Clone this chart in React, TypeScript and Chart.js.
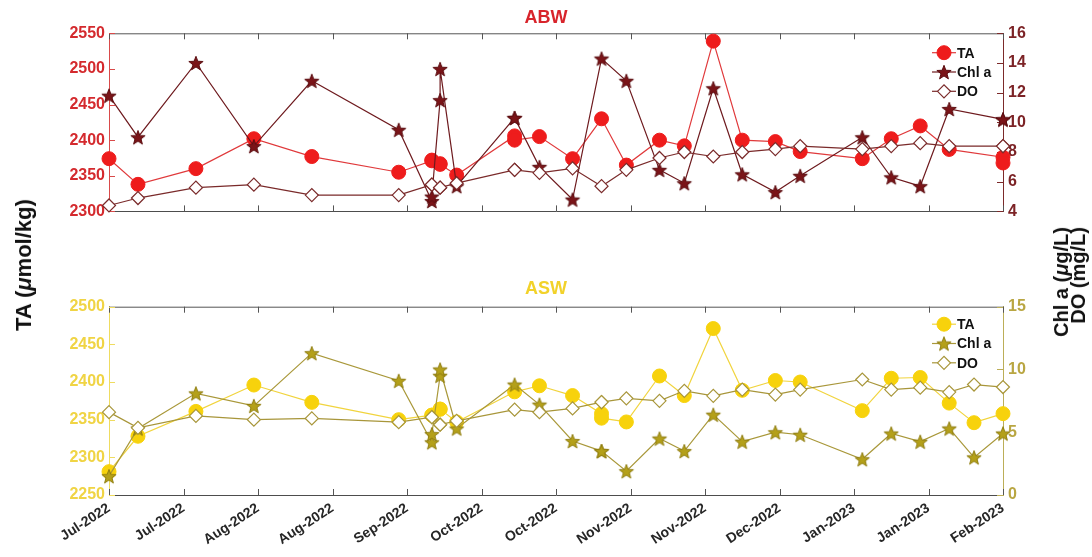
import React, { useEffect, useRef } from 'react';
import { Chart, registerables } from 'chart.js';

Chart.register(...registerables);

const FONT = '"Liberation Sans", Arial, Helvetica, sans-serif';
Chart.defaults.font.family = FONT;

// x axis: days since 7 Jul 2022, one tick every 18 days
const tickLabels = [
  'Jul-2022', 'Jul-2022', 'Aug-2022', 'Aug-2022', 'Sep-2022', 'Oct-2022', 'Oct-2022',
  'Nov-2022', 'Nov-2022', 'Dec-2022', 'Jan-2023', 'Jan-2023', 'Feb-2023',
];
const tickStepDays = 18;

// ABW samples
const abwDays = [0, 7, 21, 35, 49, 70, 78, 78, 80, 80, 84, 98, 98, 104, 112, 119, 125, 133, 139, 146, 153, 161, 167, 182, 189, 196, 203, 216, 216];
const abwTA = [2374, 2338, 2360, 2402, 2377, 2355, 2371, 2372, 2367, 2366, 2351, 2406, 2400, 2405, 2374, 2430, 2365, 2400, 2392, 2539, 2400, 2398, 2384, 2374, 2402, 2420, 2387, 2376, 2368];
const abwChl = [11.8, 9.0, 14.0, 8.4, 12.8, 9.5, 4.7, 5.0, 11.5, 13.6, 5.7, 10.3, 10.3, 7.0, 4.8, 14.3, 12.8, 6.8, 5.9, 12.3, 6.5, 5.3, 6.4, 9.0, 6.3, 5.7, 10.9, 10.2, 10.2];
const abwDO = [4.4, 4.9, 5.6, 5.8, 5.1, 5.1, 5.8, 5.8, 5.6, 5.6, 5.9, 6.8, 6.8, 6.6, 6.9, 5.7, 6.8, 7.6, 8.0, 7.7, 8.0, 8.2, 8.4, 8.2, 8.4, 8.6, 8.4, 8.4, 8.4];

// ASW samples
const aswDays = [0, 7, 21, 35, 49, 70, 78, 78, 80, 80, 84, 98, 104, 112, 119, 119, 125, 133, 139, 146, 153, 161, 167, 182, 189, 196, 203, 209, 216];
const aswTA = [2281, 2328, 2361, 2396, 2373, 2350, 2356, 2356, 2364, 2364, 2347, 2387, 2395, 2382, 2358, 2352, 2347, 2408, 2382, 2471, 2389, 2402, 2400, 2362, 2405, 2406, 2372, 2346, 2358];
const aswChl = [1.5, 5.3, 8.1, 7.1, 11.3, 9.1, 4.2, 4.85, 9.5, 10.0, 5.3, 8.8, 7.2, 4.3, 3.5, 3.5, 1.9, 4.5, 3.5, 6.4, 4.25, 5.0, 4.8, 2.85, 4.9, 4.25, 5.3, 3.0, 4.9];
const aswDO = [6.6, 5.35, 6.3, 6.0, 6.1, 5.8, 6.2, 6.2, 5.6, 5.6, 5.9, 6.8, 6.6, 6.9, 7.4, 7.4, 7.7, 7.5, 8.3, 7.9, 8.4, 8.0, 8.4, 9.2, 8.4, 8.55, 8.2, 8.8, 8.6];

function makeStar(fill: string, stroke: string, r: number): HTMLCanvasElement {
  const c = document.createElement('canvas');
  const size = Math.ceil(2 * r + 3);
  c.width = size;
  c.height = size;
  const g = c.getContext('2d')!;
  const cx = size / 2;
  const cy = size / 2 + 0.8;
  g.beginPath();
  for (let k = 0; k < 10; k++) {
    const rad = k % 2 === 0 ? r : r * 0.42;
    const a = -Math.PI / 2 + (k * Math.PI) / 5;
    const px = cx + rad * Math.cos(a);
    const py = cy + rad * Math.sin(a);
    if (k === 0) g.moveTo(px, py);
    else g.lineTo(px, py);
  }
  g.closePath();
  g.fillStyle = fill;
  g.fill();
  g.lineWidth = 1;
  g.strokeStyle = stroke;
  g.stroke();
  return c;
}

function drawMarker(ctx: CanvasRenderingContext2D, ds: any, x: number, y: number) {
  const style = ds.pointStyle;
  const r = ds.pointRadius;
  ctx.save();
  if (typeof style === 'object' && style) {
    ctx.drawImage(style, x - style.width / 2, y - style.height / 2);
  } else {
    ctx.beginPath();
    if (style === 'rectRot') {
      ctx.moveTo(x - r, y);
      ctx.lineTo(x, y - r);
      ctx.lineTo(x + r, y);
      ctx.lineTo(x, y + r);
      ctx.closePath();
    } else {
      ctx.arc(x, y, r, 0, Math.PI * 2);
    }
    ctx.fillStyle = ds.pointBackgroundColor;
    ctx.fill();
    ctx.lineWidth = ds.pointBorderWidth;
    ctx.strokeStyle = ds.pointBorderColor;
    ctx.stroke();
  }
  ctx.restore();
}

// Box outline with inward tick marks
const framePlugin = {
  id: 'frame',
  beforeDatasetsDraw(chart: any, _args: any, opts: any) {
    const { ctx, chartArea } = chart;
    const { left, right, top, bottom } = chartArea;
    const len = 6;
    ctx.save();
    ctx.lineWidth = 1;
    ctx.strokeStyle = opts.boxColor;
    ctx.beginPath();
    ctx.moveTo(left, top + 0.5);
    ctx.lineTo(right, top + 0.5);
    const xs = chart.scales.x;
    xs.ticks.forEach((_t: any, i: number) => {
      const px = Math.round(xs.getPixelForTick(i)) + 0.5;
      ctx.moveTo(px, bottom);
      ctx.lineTo(px, bottom - len);
      ctx.moveTo(px, top);
      ctx.lineTo(px, top + len);
    });
    ctx.stroke();
    const ys = chart.scales.y;
    ctx.strokeStyle = opts.leftColor;
    ctx.beginPath();
    ys.ticks.forEach((_t: any, i: number) => {
      const py = Math.round(ys.getPixelForTick(i)) + 0.5;
      ctx.moveTo(left, py);
      ctx.lineTo(left + len, py);
    });
    ctx.stroke();
    const ys1 = chart.scales.y1;
    ctx.strokeStyle = opts.rightColor;
    ctx.beginPath();
    ys1.ticks.forEach((_t: any, i: number) => {
      const py = Math.round(ys1.getPixelForTick(i)) + 0.5;
      ctx.moveTo(right, py);
      ctx.lineTo(right - len, py);
    });
    ctx.stroke();
    ctx.restore();
  },
};

// Legend drawn inside the plot box, top right
const innerLegend = {
  id: 'innerLegend',
  afterDatasetsDraw(chart: any, _args: any, opts: any) {
    const { ctx, chartArea } = chart;
    ctx.save();
    chart.data.datasets.forEach((ds: any, i: number) => {
      const y = chartArea.top + opts.firstRow + i * opts.rowGap;
      const x0 = chartArea.right - opts.fromRight;
      ctx.strokeStyle = ds.borderColor;
      ctx.lineWidth = ds.borderWidth;
      ctx.beginPath();
      ctx.moveTo(x0, y);
      ctx.lineTo(x0 + 24, y);
      ctx.stroke();
      drawMarker(ctx, ds, x0 + 12, y);
      ctx.fillStyle = '#111';
      ctx.font = `bold 14px ${FONT}`;
      ctx.textAlign = 'left';
      ctx.textBaseline = 'middle';
      ctx.fillText(ds.label, x0 + 25, y + 1);
    });
    ctx.restore();
  },
};

type PanelProps = {
  top: number;
  height: number;
  title: string;
  titleColor: string;
  titlePad: { top: number; bottom: number };
  days: number[];
  ta: number[];
  chl: number[];
  dox: number[];
  taColor: string;
  taLine: string;
  chlColor: string;
  chlStroke: string;
  chlLine: string;
  doColor: string;
  leftRange: [number, number, number];
  rightRange: [number, number, number];
  leftLabel: string;
  rightLabel: string;
  leftAxis: string;
  rightAxis: string;
  showX: boolean;
  xHeight: number;
  legendFirst: number;
  legendGap: number;
};

const plainNumber = (v: any) => String(v);

function Panel(p: PanelProps) {
  const ref = useRef<HTMLCanvasElement>(null);
  useEffect(() => {
    const star = makeStar(p.chlColor, p.chlStroke, 7.5);
    const pts = (vals: number[]) => p.days.map((d, i) => ({ x: d, y: vals[i] }));
    const chart = new Chart(ref.current!, {
      type: 'line',
      data: {
        datasets: [
          {
            label: 'TA',
            data: pts(p.ta),
            yAxisID: 'y',
            borderColor: p.taLine,
            borderWidth: 1.2,
            pointStyle: 'circle',
            pointRadius: 7,
            pointBackgroundColor: p.taColor,
            pointBorderColor: p.taColor,
            pointBorderWidth: 1,
            order: 3,
            clip: false,
          } as any,
          {
            label: 'Chl a',
            data: pts(p.chl),
            yAxisID: 'y1',
            borderColor: p.chlLine,
            borderWidth: 1.2,
            pointStyle: star,
            pointRadius: 7.5,
            pointBackgroundColor: p.chlColor,
            pointBorderColor: p.chlStroke,
            pointBorderWidth: 1,
            order: 2,
            clip: false,
          },
          {
            label: 'DO',
            data: pts(p.dox),
            yAxisID: 'y1',
            borderColor: p.doColor,
            borderWidth: 1.2,
            pointStyle: 'rectRot',
            pointRadius: 6.5,
            pointBackgroundColor: '#ffffff',
            pointBorderColor: p.doColor,
            pointBorderWidth: 1.2,
            order: 1,
            clip: false,
          },
        ],
      },
      options: {
        responsive: false,
        maintainAspectRatio: false,
        animation: false,
        layout: { padding: 0 },
        plugins: {
          legend: { display: false },
          tooltip: { enabled: false },
          title: {
            display: true,
            text: p.title,
            color: p.titleColor,
            font: { size: 18, weight: 'bold', family: FONT },
            padding: p.titlePad,
          },
          frame: { boxColor: '#555555', leftColor: p.leftAxis, rightColor: p.rightAxis },
          innerLegend: { firstRow: p.legendFirst, rowGap: p.legendGap, fromRight: 71 },
        } as any,
        scales: {
          x: {
            type: 'linear',
            min: 0,
            max: tickStepDays * (tickLabels.length - 1),
            grid: { display: false, drawTicks: false },
            border: { display: true, color: '#4d4d4d', width: 1 },
            ticks: {
              display: p.showX,
              stepSize: tickStepDays,
              autoSkip: false,
              minRotation: 33,
              maxRotation: 33,
              padding: 5,
              color: '#262626',
              font: { size: 14, weight: 'bold', family: FONT },
              callback: (v: any) => tickLabels[Math.round(Number(v) / tickStepDays)] ?? '',
            },
            afterFit: (s: any) => {
              s.height = p.xHeight;
            },
          },
          y: {
            position: 'left',
            min: p.leftRange[0],
            max: p.leftRange[1],
            grid: { display: false, drawTicks: false },
            border: { display: true, color: p.leftAxis, width: 1 },
            ticks: {
              stepSize: p.leftRange[2],
              color: p.leftLabel,
              padding: 4,
              font: { size: 16, weight: 'bold', family: FONT },
              callback: plainNumber,
            },
            afterFit: (s: any) => {
              s.width = 109;
            },
          },
          y1: {
            position: 'right',
            min: p.rightRange[0],
            max: p.rightRange[1],
            grid: { display: false, drawTicks: false },
            border: { display: true, color: p.rightAxis, width: 1 },
            ticks: {
              stepSize: p.rightRange[2],
              color: p.rightLabel,
              padding: 5,
              font: { size: 16, weight: 'bold', family: FONT },
              callback: plainNumber,
            },
            afterFit: (s: any) => {
              s.width = 89;
            },
          },
        },
      } as any,
      plugins: [framePlugin, innerLegend],
    });
    return () => chart.destroy();
  }, []);
  return (
    <canvas
      ref={ref}
      width={1092}
      height={p.height}
      style={{ position: 'absolute', left: 0, top: p.top, width: 1092, height: p.height }}
    />
  );
}

export default function App() {
  return (
    <div style={{ position: 'absolute', left: 0, top: 0, width: 1092, height: 557, background: '#ffffff', overflow: 'hidden' }}>
      <Panel
        top={0}
        height={226}
        title="ABW"
        titleColor="#d8242b"
        titlePad={{ top: 7.5, bottom: 4.2 }}
        days={abwDays}
        ta={abwTA}
        chl={abwChl}
        dox={abwDO}
        taColor="#ee1c1c"
        taLine="#e0393b"
        chlColor="#7a1418"
        chlStroke="#5a0d10"
        chlLine="#6e1a1e"
        doColor="#7a2a2a"
        leftRange={[2300, 2550, 50]}
        rightRange={[4, 16, 2]}
        leftLabel="#d42a2e"
        rightLabel="#7c2326"
        leftAxis="#d94a4a"
        rightAxis="#7c2a2a"
        showX={false}
        xHeight={3.3}
        legendFirst={19.4}
        legendGap={19.3}
      />
      <Panel
        top={250}
        height={307}
        title="ASW"
        titleColor="#f2d22a"
        titlePad={{ top: 28.5, bottom: 6.6 }}
        days={aswDays}
        ta={aswTA}
        chl={aswChl}
        dox={aswDO}
        taColor="#f7d20c"
        taLine="#f1d43e"
        chlColor="#b4a01a"
        chlStroke="#8f7d10"
        chlLine="#a9983a"
        doColor="#a8963a"
        leftRange={[2250, 2500, 50]}
        rightRange={[0, 15, 5]}
        leftLabel="#f0d444"
        rightLabel="#b9a642"
        leftAxis="#efdc60"
        rightAxis="#bcae58"
        showX={true}
        xHeight={62}
        legendFirst={17.5}
        legendGap={19.3}
      />
      <div
        style={{
          position: 'absolute',
          left: 24,
          top: 265,
          transform: 'translate(-50%, -50%) rotate(-90deg)',
          font: `bold 22px ${FONT}`,
          whiteSpace: 'nowrap',
          color: '#111',
        }}
      >
        TA (<i>μ</i>mol/kg)
      </div>
      <div
        style={{
          position: 'absolute',
          left: 1070,
          top: 282,
          transform: 'translate(-50%, -50%) rotate(-90deg)',
          font: `bold 20px ${FONT}`,
          lineHeight: '17px',
          textAlign: 'right',
          whiteSpace: 'nowrap',
          color: '#111',
        }}
      >
        Chl a (<i>μ</i>g/L)
        <br />
        DO (mg/L)
      </div>
    </div>
  );
}
